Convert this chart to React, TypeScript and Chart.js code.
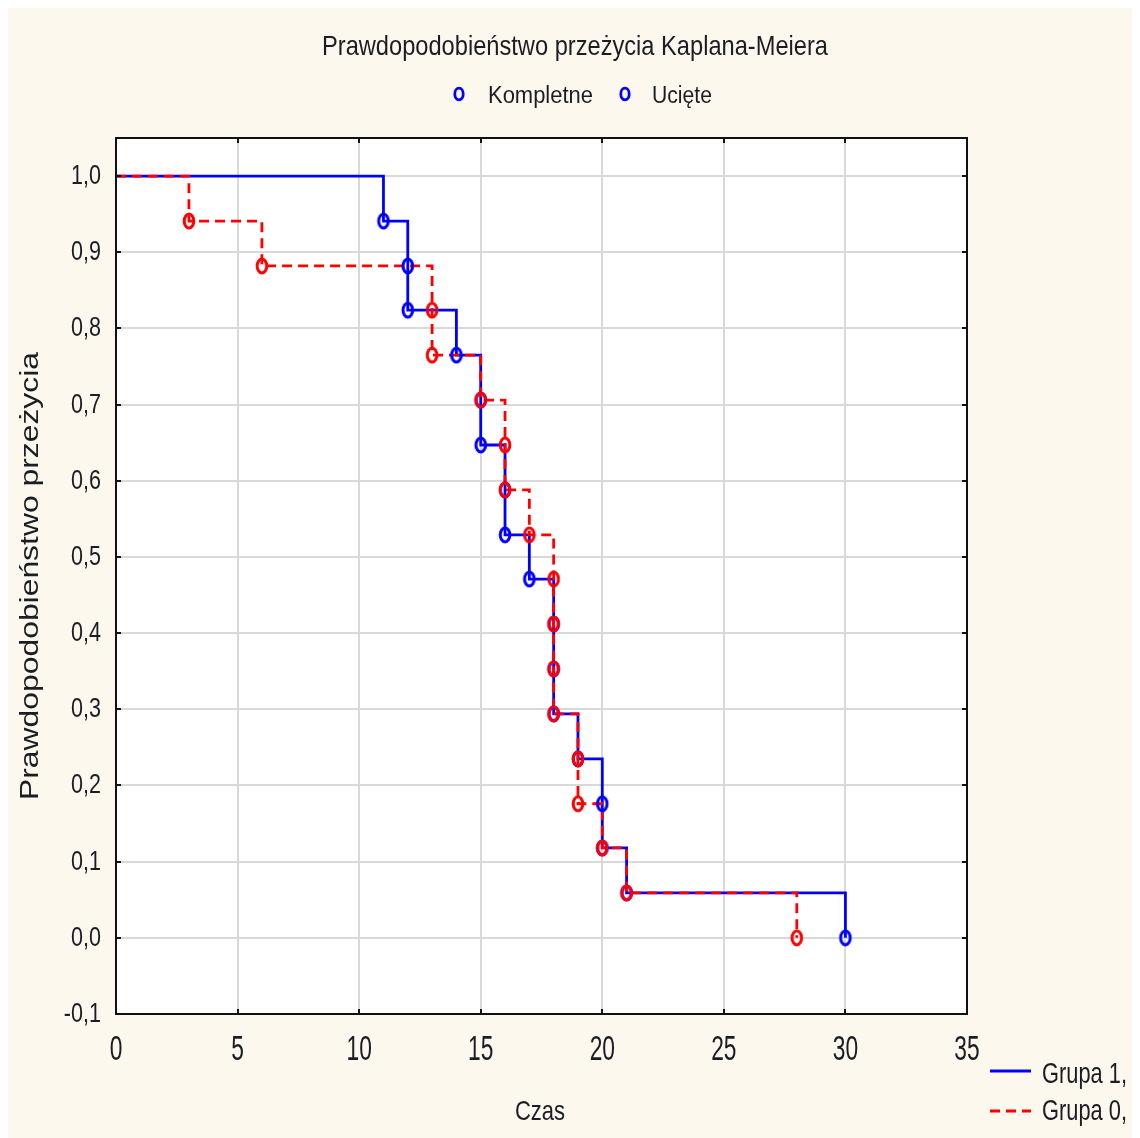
import React, { useEffect, useRef } from "react";
import { Chart, registerables } from "chart.js";

Chart.register(...registerables);

// ---- Data ----
const group1StepTimes = [0, 11, 12, 14, 15, 16, 17, 18, 19, 20, 21, 30];
const group1StepSurvival = [1.0, 0.941, 0.824, 0.765, 0.647, 0.529, 0.471, 0.294, 0.235, 0.118, 0.059, 0.0];
const group1EventTimes = [11, 12, 12, 14, 15, 15, 16, 16, 17, 18, 18, 18, 19, 20, 20, 21, 30];
const group1EventSurvival = [0.941, 0.882, 0.824, 0.765, 0.706, 0.647, 0.588, 0.529, 0.471, 0.412, 0.353, 0.294, 0.235, 0.176, 0.118, 0.059, 0.0];

const group0StepTimes = [0, 3, 6, 13, 15, 16, 17, 18, 19, 20, 21, 28];
const group0StepSurvival = [1.0, 0.941, 0.882, 0.765, 0.706, 0.588, 0.529, 0.294, 0.176, 0.118, 0.059, 0.0];
const group0EventTimes = [3, 6, 13, 13, 15, 16, 16, 17, 18, 18, 18, 18, 19, 19, 20, 21, 28];
const group0EventSurvival = [0.941, 0.882, 0.824, 0.765, 0.706, 0.647, 0.588, 0.529, 0.471, 0.412, 0.353, 0.294, 0.235, 0.176, 0.118, 0.059, 0.0];

const xTickValues = [0, 5, 10, 15, 20, 25, 30, 35];
const xTickLabels = ["0", "5", "10", "15", "20", "25", "30", "35"];
const yTickValues = [-0.1, 0, 0.1, 0.2, 0.3, 0.4, 0.5, 0.6, 0.7, 0.8, 0.9, 1.0];
const yTickLabels = ["-0,1", "0,0", "0,1", "0,2", "0,3", "0,4", "0,5", "0,6", "0,7", "0,8", "0,9", "1,0"];

const titleText = "Prawdopodobieństwo przeżycia Kaplana-Meiera";
const legendMarkerLabels = ["Kompletne", "Ucięte"];
const groupLabels = ["Grupa 1,", "Grupa 0,"];
const xAxisTitle = "Czas";
const yAxisTitle = "Prawdopodobieństwo przeżycia";

const BLUE = "#0000ff";
const RED = "#ff0000";
const TEXT = "#1c1c24";
const BG = "#fdf8ee";
const FONT = '"Liberation Sans", Arial, sans-serif';

function makeMarker(color: string, rx: number, ry: number, lw: number): HTMLCanvasElement {
  const c = document.createElement("canvas");
  c.width = 20;
  c.height = 24;
  const g = c.getContext("2d")!;
  g.strokeStyle = color;
  g.lineWidth = lw;
  g.beginPath();
  g.ellipse(10, 12, rx, ry, 0, 0, Math.PI * 2);
  g.stroke();
  return c;
}

function txt(
  ctx: CanvasRenderingContext2D,
  s: string,
  x: number,
  y: number,
  size: number,
  opts: { sx?: number; width?: number; align?: CanvasTextAlign; rot?: number }
) {
  ctx.save();
  ctx.font = `${size}px ${FONT}`;
  const w = ctx.measureText(s).width;
  const sx = opts.width ? opts.width / w : opts.sx ?? 1;
  ctx.translate(x, y);
  if (opts.rot) ctx.rotate(opts.rot);
  ctx.scale(sx, 1);
  ctx.textAlign = opts.align ?? "left";
  ctx.textBaseline = "alphabetic";
  ctx.fillStyle = TEXT;
  ctx.fillText(s, 0, 0);
  ctx.restore();
}

export default function App() {
  const ref = useRef<HTMLCanvasElement | null>(null);

  useEffect(() => {
    if (!ref.current) return;
    const blueMarker = makeMarker(BLUE, 4.8, 7, 3);
    const redMarker = makeMarker(RED, 4.8, 7, 3);
    const legendMarker = makeMarker(BLUE, 4.2, 5.8, 2.8);

    const decor = {
      id: "decor",
      beforeDraw(chart: any) {
        const ctx = chart.ctx as CanvasRenderingContext2D;
        ctx.save();
        ctx.fillStyle = BG;
        ctx.fillRect(0, 0, chart.width, chart.height);
        const a = chart.chartArea;
        ctx.fillStyle = "#ffffff";
        ctx.fillRect(a.left, a.top, a.right - a.left, a.bottom - a.top);
        ctx.restore();
      },
      afterDraw(chart: any) {
        const ctx = chart.ctx as CanvasRenderingContext2D;
        const a = chart.chartArea;
        const xs = chart.scales.x;
        const ys = chart.scales.y;
        // frame
        ctx.save();
        ctx.strokeStyle = "#111111";
        ctx.lineWidth = 2;
        ctx.strokeRect(a.left, a.top, a.right - a.left, a.bottom - a.top);
        // inward tick marks
        ctx.beginPath();
        xTickValues.forEach((v) => {
          const px = Math.round(xs.getPixelForValue(v));
          ctx.moveTo(px, a.bottom);
          ctx.lineTo(px, a.bottom - 5);
          ctx.moveTo(px, a.top);
          ctx.lineTo(px, a.top + 5);
        });
        yTickValues.forEach((v) => {
          const py = Math.round(ys.getPixelForValue(v));
          ctx.moveTo(a.left, py);
          ctx.lineTo(a.left + 5, py);
          ctx.moveTo(a.right, py);
          ctx.lineTo(a.right - 5, py);
        });
        ctx.stroke();
        ctx.restore();

        // tick labels
        xTickValues.forEach((v, i) => {
          txt(ctx, xTickLabels[i], xs.getPixelForValue(v), 1052, 35, { sx: 0.65, align: "center" });
        });
        yTickValues.forEach((v, i) => {
          txt(ctx, yTickLabels[i], 93, ys.getPixelForValue(v) + 8, 28, { sx: 0.77, align: "right" });
        });

        // titles
        txt(ctx, titleText, 567, 47, 28, { width: 506, align: "center" });
        txt(ctx, xAxisTitle, 532, 1112, 28, { width: 50, align: "center" });
        txt(ctx, yAxisTitle, 30, 568, 26, { width: 448, align: "center", rot: -Math.PI / 2 });

        // top legend
        ctx.drawImage(legendMarker, 451 - 10, 86 - 12);
        txt(ctx, legendMarkerLabels[0], 480, 95, 23, { width: 105 });
        ctx.drawImage(legendMarker, 617 - 10, 86 - 12);
        txt(ctx, legendMarkerLabels[1], 644, 95, 23, { width: 60 });

        // bottom-right legend
        ctx.save();
        ctx.lineWidth = 3;
        ctx.strokeStyle = BLUE;
        ctx.beginPath();
        ctx.moveTo(982, 1063);
        ctx.lineTo(1023, 1063);
        ctx.stroke();
        ctx.strokeStyle = RED;
        ctx.setLineDash([10, 6]);
        ctx.beginPath();
        ctx.moveTo(982, 1103);
        ctx.lineTo(1023, 1103);
        ctx.stroke();
        ctx.restore();
        txt(ctx, groupLabels[0], 1034, 1075, 29, { width: 85 });
        txt(ctx, groupLabels[1], 1034, 1112, 29, { width: 85 });
      },
    };

    const toXY = (xs: number[], ys: number[]) => xs.map((x, i) => ({ x, y: ys[i] }));

    const chart = new Chart(ref.current, {
      type: "scatter",
      data: {
        datasets: [
          {
            label: groupLabels[0],
            data: toXY(group1StepTimes, group1StepSurvival),
            showLine: true,
            stepped: true,
            borderColor: BLUE,
            borderWidth: 2.8,
            pointRadius: 0,
            order: 4,
          } as any,
          {
            label: groupLabels[1],
            data: toXY(group0StepTimes, group0StepSurvival),
            showLine: true,
            stepped: true,
            borderColor: RED,
            borderWidth: 2.8,
            borderDash: [10, 6],
            pointRadius: 0,
            order: 3,
          } as any,
          {
            label: "g1 events",
            data: toXY(group1EventTimes, group1EventSurvival),
            pointStyle: blueMarker,
            pointRadius: 7,
            showLine: false,
            order: 2,
          } as any,
          {
            label: "g0 events",
            data: toXY(group0EventTimes, group0EventSurvival),
            pointStyle: redMarker,
            pointRadius: 7,
            showLine: false,
            order: 1,
          } as any,
        ],
      },
      options: {
        animation: false,
        responsive: false,
        devicePixelRatio: 1,
        layout: { padding: { left: 108, top: 130, right: 173, bottom: 124 } },
        plugins: { legend: { display: false }, title: { display: false }, tooltip: { enabled: false } },
        events: [],
        scales: {
          x: {
            type: "linear",
            min: 0,
            max: 35,
            afterBuildTicks: (s: any) => {
              s.ticks = xTickValues.map((v) => ({ value: v }));
            },
            afterFit: (s: any) => {
              s.height = 0;
            },
            ticks: { display: false },
            grid: { color: "#d9d9d9", lineWidth: 2, drawTicks: false },
            border: { display: false },
          },
          y: {
            type: "linear",
            min: -0.1,
            max: 1.05,
            afterBuildTicks: (s: any) => {
              s.ticks = yTickValues.map((v) => ({ value: v }));
            },
            afterFit: (s: any) => {
              s.width = 0;
            },
            ticks: { display: false },
            grid: { color: "#d9d9d9", lineWidth: 2, drawTicks: false },
            border: { display: false },
          },
        },
      },
      plugins: [decor],
    });
    return () => chart.destroy();
  }, []);

  return (
    <div style={{ width: 1132, height: 1130 }}>
      <canvas ref={ref} width={1132} height={1130} style={{ display: "block", width: 1132, height: 1130 }} />
    </div>
  );
}
